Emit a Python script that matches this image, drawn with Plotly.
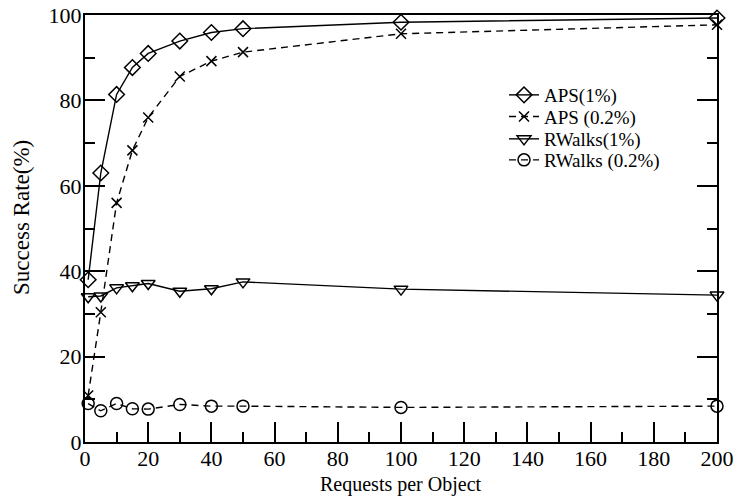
import plotly.graph_objects as go

requests = [1, 5, 10, 15, 20, 30, 40, 50, 100, 200]
aps_1 = [38.0, 63.0, 81.4, 87.7, 91.0, 93.9, 95.9, 96.8, 98.3, 99.3]
aps_02 = [10.9, 30.4, 56.0, 68.3, 76.0, 85.6, 89.2, 91.3, 95.6, 97.7]
rwalks_1 = [34.0, 34.2, 36.1, 36.6, 37.1, 35.3, 35.9, 37.5, 35.8, 34.4]
rwalks_02 = [9.0, 7.3, 9.0, 7.8, 7.7, 8.8, 8.4, 8.4, 8.1, 8.4]

series = [
    ("APS(1%)", aps_1, "diamond-open", "solid", 12),
    ("APS (0.2%)", aps_02, "x-thin-open", "7px,5px", 10),
    ("RWalks(1%)", rwalks_1, "triangle-down-open", "solid", 12),
    ("RWalks (0.2%)", rwalks_02, "circle-open", "7px,5px", 12),
]
legend_rows = [0.8126, 0.7618, 0.7096, 0.6604]

FONT = "Liberation Serif, Times New Roman, serif"

fig = go.Figure()
for i, (name, vals, sym, dash, size) in enumerate(series):
    fig.add_trace(go.Scatter(
        x=requests, y=vals, name=name, mode="lines+markers",
        line=dict(color="black", width=1.4, dash=dash),
        marker=dict(symbol=sym, size=size, color="black",
                    line=dict(color="black", width=1.5)),
        cliponaxis=False,
        legend="legend" if i == 0 else f"legend{i + 1}",
    ))

axis_common = dict(
    showgrid=False, zeroline=False, showline=True, linecolor="black",
    linewidth=2, ticks="inside", ticklen=20, tickwidth=1.5,
    tickcolor="black", tickfont=dict(family=FONT, size=22, color="black"),
    automargin=False,
)

fig.update_xaxes(
    range=[0, 200], dtick=20, tick0=0, mirror=True,
    minor=dict(ticks="inside", ticklen=10, tickwidth=1.5,
               tickcolor="black", dtick=10),
    ticklabelstandoff=-4,
    **axis_common,
)
fig.update_yaxes(
    range=[0, 100], dtick=20, tick0=0, mirror="ticks",
    minor=dict(ticks="inside", ticklen=10, tickwidth=1.5,
               tickcolor="black", dtick=10),
    ticklabelstandoff=-3,
    **axis_common,
)

legend_style = dict(x=0.663, xanchor="left", yanchor="middle",
                    font=dict(family=FONT, size=19, color="black"),
                    bgcolor="rgba(0,0,0,0)", itemwidth=30)
layout_legends = {}
for i, yv in enumerate(legend_rows):
    key = "legend" if i == 0 else f"legend{i + 1}"
    layout_legends[key] = dict(y=yv, **legend_style)

fig.update_layout(
    width=737, height=498,
    margin=dict(l=85, r=20, t=15, b=56, autoexpand=False),
    paper_bgcolor="white", plot_bgcolor="white",
    font=dict(family=FONT, color="black"),
    showlegend=True,
    annotations=[
        dict(text="Requests per Object", xref="paper", yref="paper",
             x=0.5, y=-0.1311, xanchor="center", yanchor="bottom",
             showarrow=False, font=dict(family=FONT, size=20, color="black")),
        dict(text="Success Rate(%)", xref="paper", yref="paper",
             x=-0.0997, y=0.527, xanchor="center", yanchor="middle",
             textangle=-90, showarrow=False,
             font=dict(family=FONT, size=23, color="black")),
    ],
    **layout_legends,
)

fig.write_html("out.html")
